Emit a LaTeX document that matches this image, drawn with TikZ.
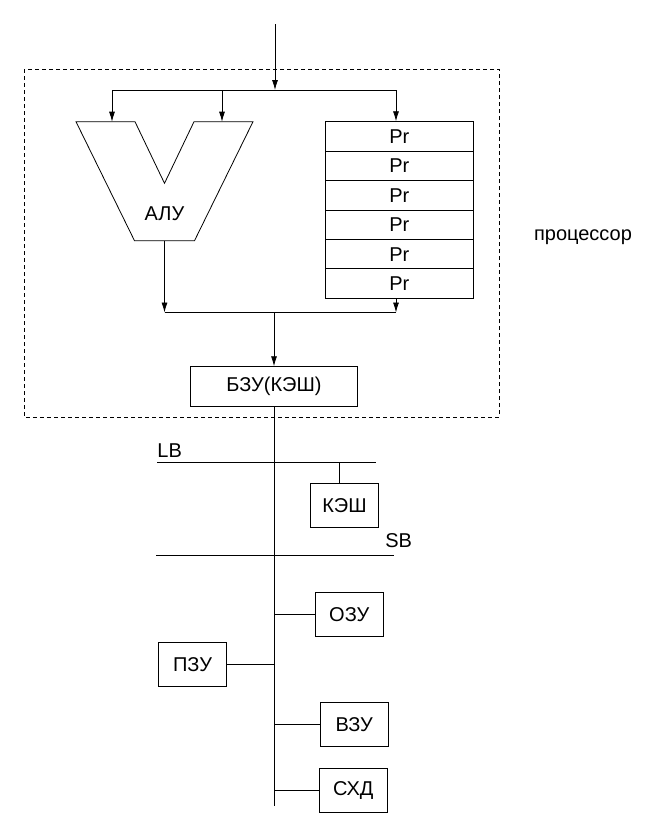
\documentclass[tikz,border=0pt]{standalone}
\usepackage{fontspec}
\setmainfont{Liberation Sans}
\usetikzlibrary{arrows.meta,positioning}

\begin{document}
\begin{tikzpicture}[x=1pt,y=-1pt,line width=0.8pt]
\tikzstyle{every node}+=[inner sep=0pt,font=\fontsize{20}{24}\selectfont]
\tikzstyle{box}=[draw,minimum width=68pt,minimum height=44pt]
\tikzstyle{prbox}=[draw,minimum width=148pt,minimum height=29.43pt]
\tikzstyle{ar}=[-{Latex[length=10pt,width=6pt]}]
\useasboundingbox (0,0) rectangle (658,836);
    % processor
    \draw [dash pattern=on 4pt off 3pt] (24,69) rectangle (499,417);
    \node (proc) at (583,237) {процессор};
    \coordinate (in) at (275,24);
    \coordinate (bus) at (275,90);
    \draw [ar] (in) -- (bus);
    \draw (112,90) -- (396,90);
    % ALU
    \draw (76,121.7) -- (135,121.7) -- (164.5,183.3) -- (194,121.7)
        -- (253,121.7) -- (194.5,240.7) -- (134.5,240.7) -- cycle;
    \node (alu) at (164.5,214) {АЛУ};
    \coordinate (aluL) at (112,121.7);
    \coordinate (aluR) at (222,121.7);
    \coordinate (aluOut) at (164.5,240.7);
    % registers
    \foreach \i in {1,...,6}
        \node [prbox] (pr\i) at (399.3,{121.7+29.43*(\i-0.5)}) {Pr};
    \draw [ar] (aluL |- bus) -- (aluL);
    \draw [ar] (aluR |- bus) -- (aluR);
    \draw [ar] (396,90) -- (pr1.north -| 396,0);
    \coordinate (join) at (274,312.5);
    \draw [ar] (aluOut) -- (aluOut |- join);
    \draw [ar] (pr6.south -| 396,0) -- (396,312.5);
    \draw (aluOut |- join) -- (396,312.5);
    \node [draw,minimum width=167pt,minimum height=39.3pt] (bzu) at (274,386.3) {БЗУ(КЭШ)};
    \draw [ar] (join) -- (bzu.north);
    % buses
    \coordinate (busB) at (274,806);
    \draw (bzu.south) -- (busB);
    \draw (157,462.3) -- (376,462.3);
    \node [anchor=base west] (lb) at (157,457) {LB};
    \draw (156,555.3) -- (394,555.3);
    \node [anchor=base west] (sb) at (385,547) {SB};
    \node [box] (kesh) at (344.5,505.3) {КЭШ};
    \coordinate (lbk) at (339.3,462.3);
    \draw (lbk) -- (lbk |- kesh.north);
    % memory
    \node [box] (ozu) at (349.3,614.2) {ОЗУ};
    \node [box] (pzu) at (192.5,664.8) {ПЗУ};
    \node [box] (vzu) at (354.3,724.2) {ВЗУ};
    \node [box] (shd) at (353.3,790.8) {СХД};
    \draw (ozu.west) -- (ozu.west -| busB);
    \draw (pzu.east) -- (pzu.east -| busB);
    \draw (vzu.west) -- (vzu.west -| busB);
    \draw (shd.west) -- (shd.west -| busB);
\end{tikzpicture}
\end{document}
